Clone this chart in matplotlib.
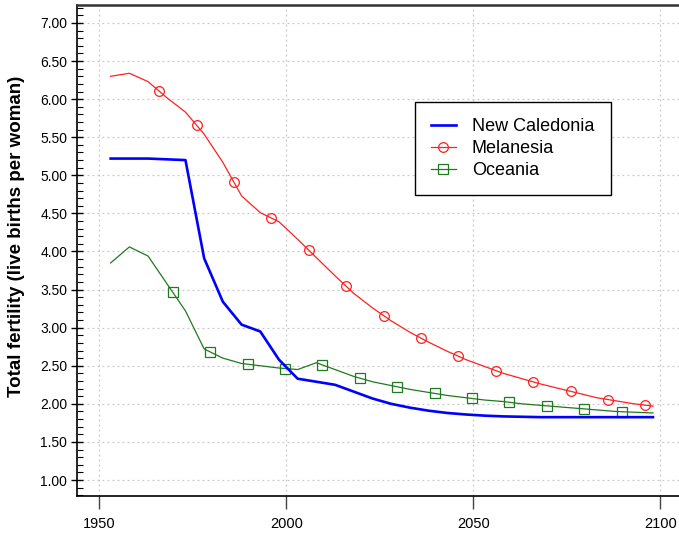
import numpy as np
import matplotlib
matplotlib.use("Agg")
import matplotlib.pyplot as plt
from matplotlib.ticker import MultipleLocator, FormatStrFormatter

plt.rcParams['font.family'] = ['Liberation Sans', 'DejaVu Sans']

years = [1953 + 5 * i for i in range(30)]

new_caledonia = [5.22, 5.22, 5.22, 5.21, 5.20, 3.91, 3.34, 3.04, 2.95, 2.58,
                 2.33, 2.29, 2.25, 2.16, 2.07, 2.00, 1.95, 1.91, 1.88, 1.86,
                 1.845, 1.835, 1.83, 1.825, 1.825, 1.825, 1.825, 1.825, 1.825, 1.825]

melanesia = [6.30, 6.34, 6.23, 6.02, 5.83, 5.54, 5.17, 4.73, 4.51, 4.39,
             4.16, 3.92, 3.68, 3.45, 3.26, 3.09, 2.94, 2.81, 2.69, 2.58,
             2.49, 2.40, 2.33, 2.26, 2.20, 2.14, 2.08, 2.04, 2.00, 1.97]

oceania = [3.85, 4.06, 3.94, 3.58, 3.22, 2.72, 2.60, 2.53, 2.50, 2.47,
           2.45, 2.54, 2.45, 2.36, 2.29, 2.24, 2.19, 2.15, 2.11, 2.08,
           2.05, 2.03, 2.00, 1.98, 1.96, 1.94, 1.92, 1.90, 1.89, 1.88]

labels = ["New Caledonia", "Melanesia", "Oceania"]
ylabel = "Total fertility (live births per woman)"

# marker placement along lines (style)
mel_marker_years = np.arange(1966, 2100, 10)
oce_marker_years = np.arange(1969.6, 2095, 10)

W, H = 679, 535
fig = plt.figure(figsize=(W / 100, H / 100), dpi=100)
left, bottom, top, right = 77, 496, 5, 700
ax = fig.add_axes([left / W, 1 - bottom / H, (right - left) / W, (bottom - top) / H])

px_per_year = 3.74
x0 = 1944.0
ax.set_xlim(x0, x0 + (right - left) / px_per_year)
px_per_unit = 76.17
ax.set_ylim(0.79, 0.79 + (bottom - top) / px_per_unit)

blue = '#0000ff'
red = '#ff2020'
green = '#1f7a1f'

ax.plot(years, new_caledonia, color=blue, lw=1.9, zorder=4)
ax.plot(years, melanesia, color=red, lw=0.9, zorder=3)
ax.plot(years, oceania, color=green, lw=0.9, zorder=3)

ax.plot(mel_marker_years, np.interp(mel_marker_years, years, melanesia), ls='none',
        marker='o', ms=7, mfc='none', mec=red, mew=0.9, zorder=3)
ax.plot(oce_marker_years, np.interp(oce_marker_years, years, oceania), ls='none',
        marker='s', ms=6.5, mfc='none', mec=green, mew=0.9, zorder=3)

# legend proxies
h1, = ax.plot([], [], color=blue, lw=1.9)
h2, = ax.plot([], [], color=red, lw=0.9, marker='o', ms=7, mfc='none', mec=red, mew=0.9)
h3, = ax.plot([], [], color=green, lw=0.9, marker='s', ms=6.5, mfc='none', mec=green, mew=0.9)
leg = ax.legend([h1, h2, h3], labels, loc='upper left',
                bbox_to_anchor=(415 / W, 1 - 102 / H), bbox_transform=fig.transFigure,
                fontsize=13, frameon=True, fancybox=False, shadow=False,
                handlelength=1.35, handletextpad=0.9, labelspacing=0.27,
                borderpad=0.9, borderaxespad=0, framealpha=1)
leg.get_frame().set_edgecolor('black')
leg.get_frame().set_linewidth(1.0)

ax.xaxis.set_major_locator(MultipleLocator(50))
ax.yaxis.set_minor_locator(MultipleLocator(0.1))
ax.yaxis.set_major_formatter(FormatStrFormatter('%.2f'))
ax.set_yticks([v for v in np.arange(1.0, 7.01, 0.5)])

ax.grid(True, which='major', color='#c8c8c8', ls=(0, (1.5, 2.5)), lw=0.9)
ax.set_axisbelow(True)

ax.tick_params(axis='x', direction='out', length=9, width=1, color='#444444',
               labelsize=10.5, pad=6)
ax.tick_params(axis='y', which='major', direction='inout', length=8, width=1,
               labelsize=10, pad=3)
ax.tick_params(axis='y', which='minor', direction='in', length=4, width=0.8)

for s in ['left', 'bottom']:
    ax.spines[s].set_color('black')
    ax.spines[s].set_linewidth(1.2)
ax.spines['top'].set_color('#333333')
ax.spines['top'].set_linewidth(1.8)
ax.spines['right'].set_visible(False)

ax.set_ylabel(ylabel, fontsize=13.5, fontweight='bold')
ax.yaxis.set_label_coords(-52 / (right - left), (bottom - 236) / (bottom - top))

fig.savefig('out.png', dpi=100)
